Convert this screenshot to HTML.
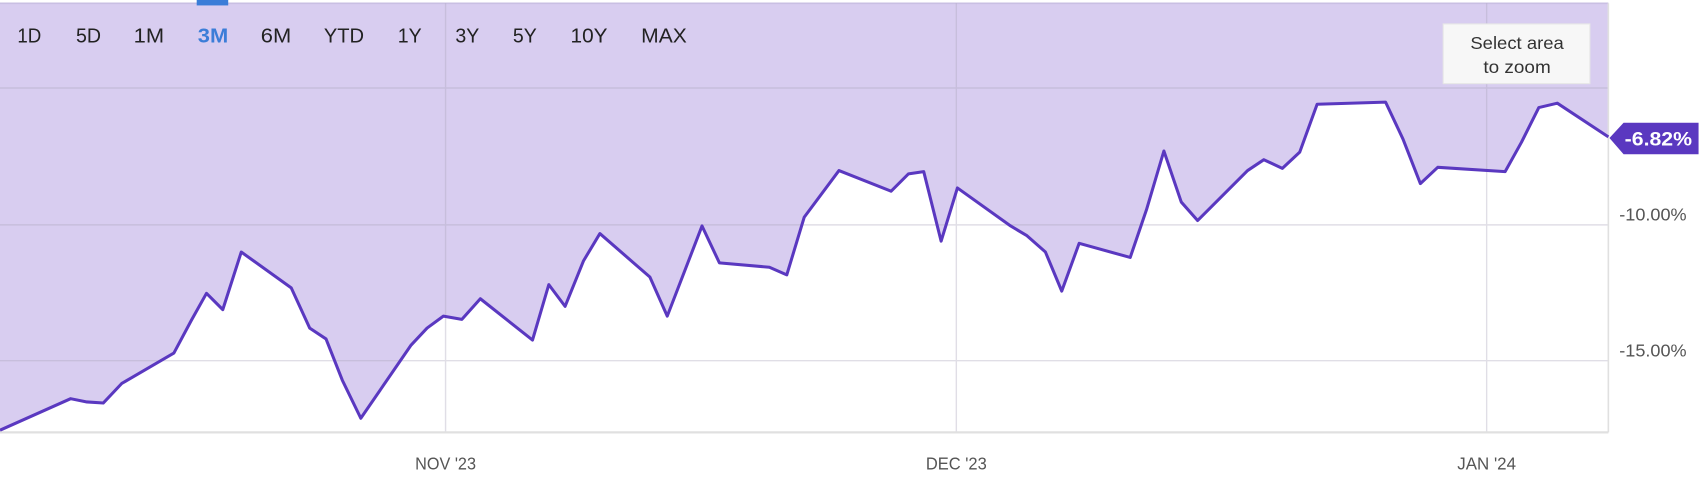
<!DOCTYPE html>
<html><head><meta charset="utf-8"><style>
html,body{margin:0;padding:0;background:#fff;}
svg{display:block;}
text{font-family:"Liberation Sans",sans-serif;}
</style></head><body>
<svg width="1704" height="478" viewBox="0 0 1568 440" preserveAspectRatio="none" xmlns="http://www.w3.org/2000/svg">
<rect x="0" y="0" width="1568" height="440" fill="#fff"/>
<path fill="#d8cdf0" d="M0,3 L1480,3 L1480,126 L1433,95 L1416,99 L1400,131 L1385,158 L1323,154 L1307,169 L1291,128 L1275,94 L1212,96 L1196,140 L1180,155 L1163,147 L1148,157 L1102,203 L1087,186 L1071,139 L1055,193 L1040,237 L993,224 L977,268 L962,232 L945,217 L930,208 L881,173 L866,222 L850,158 L836,160 L820,176 L772,157 L740,200 L724,253 L708,246 L662,242 L646,208 L614,291 L598,255 L552,215 L537,240 L520,282 L505,262 L490,313 L442,275 L425,294 L408,291 L393,302 L378,318 L332,385 L315,350 L300,312 L285,302 L268,265 L222,232 L205,285 L190,270 L176,295 L160,325 L112,353 L95,371 L80,370 L65,367 L0,396 Z"/>
<line x1="0" y1="3" x2="1480" y2="3" stroke="#c9bfe3" stroke-width="1.5"/>
<g stroke="#a9a3b8" stroke-width="1.3" opacity="0.35">
<line x1="0" y1="81" x2="1480" y2="81"/>
<line x1="0" y1="207" x2="1480" y2="207"/>
<line x1="0" y1="332" x2="1480" y2="332"/>
<line x1="410" y1="3" x2="410" y2="398"/>
<line x1="880" y1="3" x2="880" y2="398"/>
<line x1="1368" y1="3" x2="1368" y2="398"/>
</g>
<line x1="0" y1="398" x2="1480" y2="398" stroke="#e0e0e0" stroke-width="2"/>
<line x1="1480" y1="3" x2="1480" y2="398" stroke="#e0e0e0" stroke-width="1.5"/>
<polyline fill="none" stroke="#5a38c0" stroke-width="2.8" stroke-linejoin="round" points="0,396 65,367 80,370 95,371 112,353 160,325 176,295 190,270 205,285 222,232 268,265 285,302 300,312 315,350 332,385 378,318 393,302 408,291 425,294 442,275 490,313 505,262 520,282 537,240 552,215 598,255 614,291 646,208 662,242 708,246 724,253 740,200 772,157 820,176 836,160 850,158 866,222 881,173 930,208 945,217 962,232 977,268 993,224 1040,237 1055,193 1071,139 1087,186 1102,203 1148,157 1163,147 1180,155 1196,140 1212,96 1275,94 1291,128 1307,169 1323,154 1385,158 1400,131 1416,99 1433,95 1480,126"/>
<rect x="181" y="0" width="29" height="5" fill="#3b7dd8"/>
<g font-size="19" fill="#222">
<text x="16" y="39" textLength="22" lengthAdjust="spacingAndGlyphs">1D</text>
<text x="70" y="39" textLength="23" lengthAdjust="spacingAndGlyphs">5D</text>
<text x="123" y="39" textLength="28" lengthAdjust="spacingAndGlyphs">1M</text>
<text x="182" y="39" fill="#3b7dd8" font-weight="bold" textLength="28" lengthAdjust="spacingAndGlyphs">3M</text>
<text x="240" y="39" textLength="28" lengthAdjust="spacingAndGlyphs">6M</text>
<text x="298" y="39" textLength="37" lengthAdjust="spacingAndGlyphs">YTD</text>
<text x="366" y="39" textLength="22" lengthAdjust="spacingAndGlyphs">1Y</text>
<text x="419" y="39" textLength="22" lengthAdjust="spacingAndGlyphs">3Y</text>
<text x="472" y="39" textLength="22" lengthAdjust="spacingAndGlyphs">5Y</text>
<text x="525" y="39" textLength="34" lengthAdjust="spacingAndGlyphs">10Y</text>
<text x="590" y="39" textLength="42" lengthAdjust="spacingAndGlyphs">MAX</text>
</g>
<rect x="1328" y="22" width="135" height="55" fill="#f7f7f7" stroke="#e6e6e6"/>
<g font-size="16" fill="#333" text-anchor="middle">
<text x="1396" y="45" textLength="86" lengthAdjust="spacingAndGlyphs">Select area</text>
<text x="1396" y="67" textLength="62" lengthAdjust="spacingAndGlyphs">to zoom</text>
</g>
<path d="M1481,127 L1494,113 L1563,113 L1563,142 L1494,142 Z" fill="#5a38c0"/>
<text x="1526" y="134" font-size="18" font-weight="bold" fill="#fff" text-anchor="middle" textLength="62" lengthAdjust="spacingAndGlyphs">-6.82%</text>
<g font-size="16" fill="#555">
<text x="1490" y="203" textLength="62" lengthAdjust="spacingAndGlyphs">-10.00%</text>
<text x="1490" y="328" textLength="62" lengthAdjust="spacingAndGlyphs">-15.00%</text>
</g>
<g font-size="16" fill="#555" text-anchor="middle">
<text x="410" y="432" textLength="56" lengthAdjust="spacingAndGlyphs">NOV '23</text>
<text x="880" y="432" textLength="56" lengthAdjust="spacingAndGlyphs">DEC '23</text>
<text x="1368" y="432" textLength="54" lengthAdjust="spacingAndGlyphs">JAN '24</text>
</g>
</svg>
</body></html>
